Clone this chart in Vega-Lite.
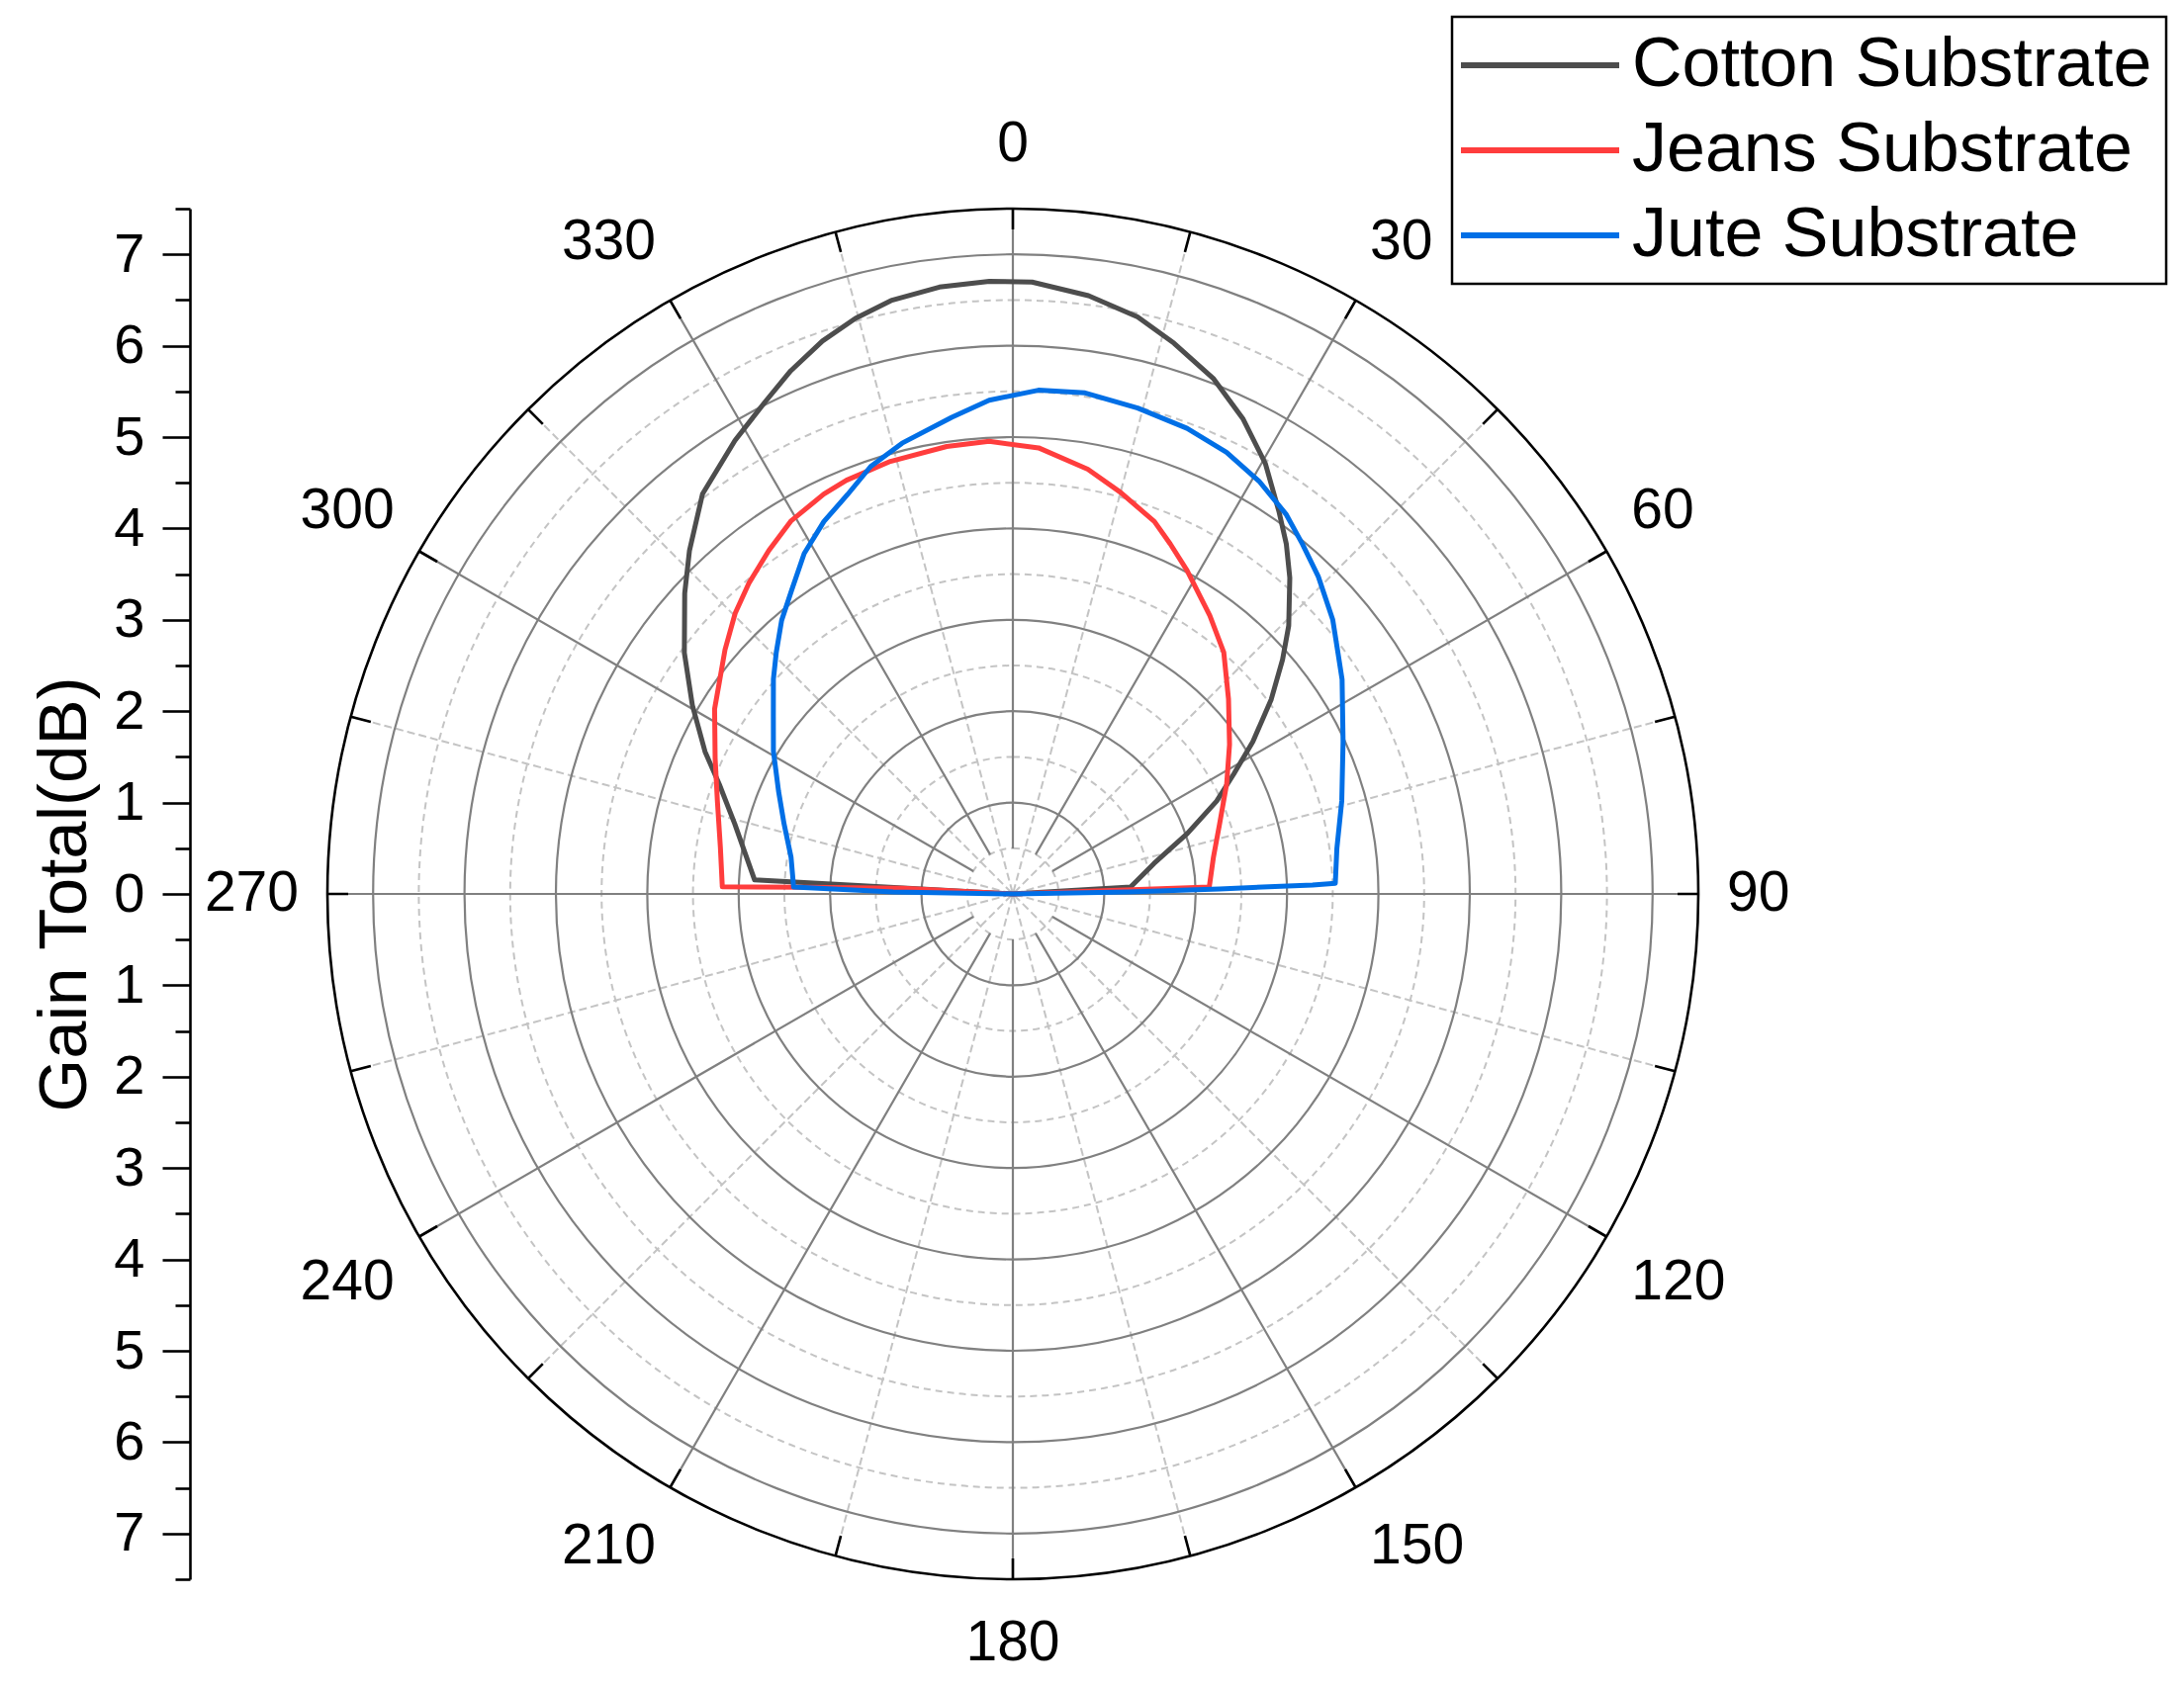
{
  "$schema": "https://vega.github.io/schema/vega-lite/v6.json",
  "width": 1386,
  "height": 1386,
  "autosize": {"type": "none"},
  "padding": {"left": 331, "top": 211, "right": 491, "bottom": 110},
  "background": "white",
  "config": {"view": {"stroke": null}, "legend": {"strokeWidth": 2.5}},
  "layer": [
    {
      "data": {"values": [{"r": 0.5}, {"r": 1.5}, {"r": 2.5}, {"r": 3.5}, {"r": 4.5}, {"r": 5.5}, {"r": 6.5}]},
      "mark": {"type": "arc", "filled": false, "stroke": "#c4c4c4", "strokeWidth": 2, "strokeDash": [7, 5], "theta": 0, "theta2": 6.2832},
      "encoding": {"radius": {"field": "r", "type": "quantitative", "stack": null, "scale": {"type": "linear", "domain": [0, 7.5], "range": [0, 693], "zero": true}}}
    },
    {
      "data": {"values": [{"a": 15}, {"a": 45}, {"a": 75}, {"a": 105}, {"a": 135}, {"a": 165}, {"a": 195}, {"a": 225}, {"a": 255}, {"a": 285}, {"a": 315}, {"a": 345}]},
      "mark": {"type": "arc", "filled": false, "stroke": "#c4c4c4", "strokeWidth": 2, "strokeDash": [7, 5], "radius": 693, "radius2": 0},
      "encoding": {
        "theta": {"field": "a", "type": "quantitative", "stack": null, "scale": {"type": "linear", "domain": [0, 360], "range": [0, 6.283185307179586]}},
        "theta2": {"field": "a"}
      }
    },
    {
      "data": {"values": [{"r": 1}, {"r": 2}, {"r": 3}, {"r": 4}, {"r": 5}, {"r": 6}, {"r": 7}]},
      "mark": {"type": "arc", "filled": false, "stroke": "#808080", "strokeWidth": 2.2, "theta": 0, "theta2": 6.2832},
      "encoding": {"radius": {"field": "r", "type": "quantitative", "stack": null, "scale": {"type": "linear", "domain": [0, 7.5], "range": [0, 693], "zero": true}}}
    },
    {
      "data": {"values": [{"a": 0}, {"a": 30}, {"a": 60}, {"a": 90}, {"a": 120}, {"a": 150}, {"a": 180}, {"a": 210}, {"a": 240}, {"a": 270}, {"a": 300}, {"a": 330}]},
      "mark": {"type": "arc", "filled": false, "stroke": "#808080", "strokeWidth": 2.2, "radius": 693, "radius2": 46},
      "encoding": {
        "theta": {"field": "a", "type": "quantitative", "stack": null, "scale": {"type": "linear", "domain": [0, 360], "range": [0, 6.283185307179586]}},
        "theta2": {"field": "a"}
      }
    },
    {
      "data": {"values": [{"r": 7.5}]},
      "mark": {"type": "arc", "filled": false, "stroke": "black", "strokeWidth": 2.6, "theta": 0, "theta2": 6.2832},
      "encoding": {"radius": {"field": "r", "type": "quantitative", "stack": null, "scale": {"type": "linear", "domain": [0, 7.5], "range": [0, 693], "zero": true}}}
    },
    {
      "data": {"values": [{"a": 0}, {"a": 15}, {"a": 30}, {"a": 45}, {"a": 60}, {"a": 75}, {"a": 90}, {"a": 105}, {"a": 120}, {"a": 135}, {"a": 150}, {"a": 165}, {"a": 180}, {"a": 195}, {"a": 210}, {"a": 225}, {"a": 240}, {"a": 255}, {"a": 270}, {"a": 285}, {"a": 300}, {"a": 315}, {"a": 330}, {"a": 345}]},
      "mark": {"type": "arc", "filled": false, "stroke": "black", "strokeWidth": 2.6, "radius": 693, "radius2": 672},
      "encoding": {
        "theta": {"field": "a", "type": "quantitative", "stack": null, "scale": {"type": "linear", "domain": [0, 360], "range": [0, 6.283185307179586]}},
        "theta2": {"field": "a"}
      }
    },
    {
      "data": {"values": [{"a": 0, "t": "0"}, {"a": 30, "t": "30"}, {"a": 60, "t": "60"}, {"a": 90, "t": "90"}, {"a": 120, "t": "120"}, {"a": 150, "t": "150"}, {"a": 180, "t": "180"}, {"a": 210, "t": "210"}, {"a": 240, "t": "240"}, {"a": 270, "t": "270"}, {"a": 300, "t": "300"}, {"a": 330, "t": "330"}]},
      "mark": {
        "type": "text", "radius": 722,
        "align": {"expr": "abs(sin(datum.a * PI / 180)) < 0.01 ? 'center' : (sin(datum.a * PI / 180) > 0 ? 'left' : 'right')"},
        "baseline": {"expr": "abs(cos(datum.a * PI / 180)) < 0.01 ? 'middle' : (cos(datum.a * PI / 180) > 0 ? 'alphabetic' : 'top')"},
        "dy": {"expr": "cos(datum.a * PI / 180) > 0.01 ? -19 * cos(datum.a * PI / 180) : -8 * cos(datum.a * PI / 180)"},
        "font": "Liberation Sans", "fontSize": 57, "color": "black"
      },
      "encoding": {
        "theta": {"field": "a", "type": "quantitative", "stack": null, "scale": {"type": "linear", "domain": [0, 360], "range": [0, 6.283185307179586]}},
        "text": {"field": "t"}
      }
    },
    {
      "data": {"values": [
        {"s": "Cotton Substrate", "i": 0, "a": -90, "g": 0},
        {"s": "Cotton Substrate", "i": 1, "a": -86.9, "g": 2.83},
        {"s": "Cotton Substrate", "i": 2, "a": -75.8, "g": 3.14},
        {"s": "Cotton Substrate", "i": 3, "a": -69.5, "g": 3.43},
        {"s": "Cotton Substrate", "i": 4, "a": -65.2, "g": 3.71},
        {"s": "Cotton Substrate", "i": 5, "a": -59.5, "g": 4.07},
        {"s": "Cotton Substrate", "i": 6, "a": -53.7, "g": 4.46},
        {"s": "Cotton Substrate", "i": 7, "a": -47.5, "g": 4.87},
        {"s": "Cotton Substrate", "i": 8, "a": -43.3, "g": 5.16},
        {"s": "Cotton Substrate", "i": 9, "a": -37.8, "g": 5.54},
        {"s": "Cotton Substrate", "i": 10, "a": -31.5, "g": 5.82},
        {"s": "Cotton Substrate", "i": 11, "a": -26.7, "g": 6.03},
        {"s": "Cotton Substrate", "i": 12, "a": -23.0, "g": 6.22},
        {"s": "Cotton Substrate", "i": 13, "a": -19.0, "g": 6.40},
        {"s": "Cotton Substrate", "i": 14, "a": -15.3, "g": 6.53},
        {"s": "Cotton Substrate", "i": 15, "a": -11.6, "g": 6.63},
        {"s": "Cotton Substrate", "i": 16, "a": -6.9, "g": 6.69},
        {"s": "Cotton Substrate", "i": 17, "a": -2.2, "g": 6.71},
        {"s": "Cotton Substrate", "i": 18, "a": 1.8, "g": 6.70},
        {"s": "Cotton Substrate", "i": 19, "a": 7.2, "g": 6.60},
        {"s": "Cotton Substrate", "i": 20, "a": 12.2, "g": 6.46},
        {"s": "Cotton Substrate", "i": 21, "a": 16.3, "g": 6.28},
        {"s": "Cotton Substrate", "i": 22, "a": 21.3, "g": 6.05},
        {"s": "Cotton Substrate", "i": 23, "a": 25.8, "g": 5.78},
        {"s": "Cotton Substrate", "i": 24, "a": 30.4, "g": 5.46},
        {"s": "Cotton Substrate", "i": 25, "a": 34.8, "g": 5.10},
        {"s": "Cotton Substrate", "i": 26, "a": 38.0, "g": 4.86},
        {"s": "Cotton Substrate", "i": 27, "a": 41.2, "g": 4.60},
        {"s": "Cotton Substrate", "i": 28, "a": 45.8, "g": 4.21},
        {"s": "Cotton Substrate", "i": 29, "a": 49.0, "g": 3.91},
        {"s": "Cotton Substrate", "i": 30, "a": 53.0, "g": 3.54},
        {"s": "Cotton Substrate", "i": 31, "a": 57.6, "g": 3.11},
        {"s": "Cotton Substrate", "i": 32, "a": 61.5, "g": 2.75},
        {"s": "Cotton Substrate", "i": 33, "a": 65.5, "g": 2.45},
        {"s": "Cotton Substrate", "i": 34, "a": 70.9, "g": 2.02},
        {"s": "Cotton Substrate", "i": 35, "a": 77.8, "g": 1.58},
        {"s": "Cotton Substrate", "i": 36, "a": 86.6, "g": 1.29},
        {"s": "Cotton Substrate", "i": 37, "a": 90, "g": 0},
        {"s": "Jeans Substrate", "i": 0, "a": -90, "g": 0},
        {"s": "Jeans Substrate", "i": 1, "a": -87.0, "g": 1.21},
        {"s": "Jeans Substrate", "i": 2, "a": -88.1, "g": 2.24},
        {"s": "Jeans Substrate", "i": 3, "a": -88.6, "g": 3.18},
        {"s": "Jeans Substrate", "i": 4, "a": -81.0, "g": 3.24},
        {"s": "Jeans Substrate", "i": 5, "a": -72.5, "g": 3.39},
        {"s": "Jeans Substrate", "i": 6, "a": -65.5, "g": 3.58},
        {"s": "Jeans Substrate", "i": 7, "a": -58.2, "g": 3.84},
        {"s": "Jeans Substrate", "i": 8, "a": -54.2, "g": 3.96},
        {"s": "Jeans Substrate", "i": 9, "a": -49.7, "g": 4.13},
        {"s": "Jeans Substrate", "i": 10, "a": -44.7, "g": 4.32},
        {"s": "Jeans Substrate", "i": 11, "a": -40.4, "g": 4.46},
        {"s": "Jeans Substrate", "i": 12, "a": -35.4, "g": 4.61},
        {"s": "Jeans Substrate", "i": 13, "a": -30.7, "g": 4.75},
        {"s": "Jeans Substrate", "i": 14, "a": -25.3, "g": 4.84},
        {"s": "Jeans Substrate", "i": 15, "a": -21.9, "g": 4.88},
        {"s": "Jeans Substrate", "i": 16, "a": -15.8, "g": 4.92},
        {"s": "Jeans Substrate", "i": 17, "a": -8.4, "g": 4.95},
        {"s": "Jeans Substrate", "i": 18, "a": -3.0, "g": 4.96},
        {"s": "Jeans Substrate", "i": 19, "a": 3.3, "g": 4.89},
        {"s": "Jeans Substrate", "i": 20, "a": 10.0, "g": 4.72},
        {"s": "Jeans Substrate", "i": 21, "a": 15.0, "g": 4.55},
        {"s": "Jeans Substrate", "i": 22, "a": 20.8, "g": 4.36},
        {"s": "Jeans Substrate", "i": 23, "a": 24.2, "g": 4.20},
        {"s": "Jeans Substrate", "i": 24, "a": 28.3, "g": 4.02},
        {"s": "Jeans Substrate", "i": 25, "a": 35.3, "g": 3.73},
        {"s": "Jeans Substrate", "i": 26, "a": 41.1, "g": 3.51},
        {"s": "Jeans Substrate", "i": 27, "a": 47.9, "g": 3.18},
        {"s": "Jeans Substrate", "i": 28, "a": 55.4, "g": 2.88},
        {"s": "Jeans Substrate", "i": 29, "a": 62.8, "g": 2.63},
        {"s": "Jeans Substrate", "i": 30, "a": 71.2, "g": 2.39},
        {"s": "Jeans Substrate", "i": 31, "a": 79.7, "g": 2.23},
        {"s": "Jeans Substrate", "i": 32, "a": 88.0, "g": 2.15},
        {"s": "Jeans Substrate", "i": 33, "a": 90, "g": 0},
        {"s": "Jute Substrate", "i": 0, "a": -90, "g": 0},
        {"s": "Jute Substrate", "i": 1, "a": -89.0, "g": 1.31},
        {"s": "Jute Substrate", "i": 2, "a": -88.2, "g": 2.40},
        {"s": "Jute Substrate", "i": 3, "a": -80.6, "g": 2.46},
        {"s": "Jute Substrate", "i": 4, "a": -72.9, "g": 2.62},
        {"s": "Jute Substrate", "i": 5, "a": -66.3, "g": 2.80},
        {"s": "Jute Substrate", "i": 6, "a": -59.2, "g": 3.05},
        {"s": "Jute Substrate", "i": 7, "a": -53.5, "g": 3.26},
        {"s": "Jute Substrate", "i": 8, "a": -48.1, "g": 3.52},
        {"s": "Jute Substrate", "i": 9, "a": -44.4, "g": 3.70},
        {"s": "Jute Substrate", "i": 10, "a": -40.2, "g": 3.92},
        {"s": "Jute Substrate", "i": 11, "a": -36.1, "g": 4.11},
        {"s": "Jute Substrate", "i": 12, "a": -31.5, "g": 4.37},
        {"s": "Jute Substrate", "i": 13, "a": -26.9, "g": 4.57},
        {"s": "Jute Substrate", "i": 14, "a": -22.5, "g": 4.73},
        {"s": "Jute Substrate", "i": 15, "a": -18.4, "g": 4.93},
        {"s": "Jute Substrate", "i": 16, "a": -13.8, "g": 5.08},
        {"s": "Jute Substrate", "i": 17, "a": -7.3, "g": 5.26},
        {"s": "Jute Substrate", "i": 18, "a": -2.75, "g": 5.41},
        {"s": "Jute Substrate", "i": 19, "a": 2.9, "g": 5.52},
        {"s": "Jute Substrate", "i": 20, "a": 8.2, "g": 5.54},
        {"s": "Jute Substrate", "i": 21, "a": 14.4, "g": 5.49},
        {"s": "Jute Substrate", "i": 22, "a": 20.5, "g": 5.44},
        {"s": "Jute Substrate", "i": 23, "a": 25.8, "g": 5.37},
        {"s": "Jute Substrate", "i": 24, "a": 30.8, "g": 5.26},
        {"s": "Jute Substrate", "i": 25, "a": 35.7, "g": 5.12},
        {"s": "Jute Substrate", "i": 26, "a": 39.6, "g": 4.97},
        {"s": "Jute Substrate", "i": 27, "a": 43.9, "g": 4.82},
        {"s": "Jute Substrate", "i": 28, "a": 49.4, "g": 4.61},
        {"s": "Jute Substrate", "i": 29, "a": 53.4, "g": 4.43},
        {"s": "Jute Substrate", "i": 30, "a": 56.9, "g": 4.30},
        {"s": "Jute Substrate", "i": 31, "a": 65.2, "g": 3.98},
        {"s": "Jute Substrate", "i": 32, "a": 74.2, "g": 3.74},
        {"s": "Jute Substrate", "i": 33, "a": 82.0, "g": 3.58},
        {"s": "Jute Substrate", "i": 34, "a": 88.1, "g": 3.53},
        {"s": "Jute Substrate", "i": 35, "a": 88.3, "g": 3.28},
        {"s": "Jute Substrate", "i": 36, "a": 88.6, "g": 2.26},
        {"s": "Jute Substrate", "i": 37, "a": 89.0, "g": 1.26},
        {"s": "Jute Substrate", "i": 38, "a": 90, "g": 0}
      ]},
      "transform": [
        {"calculate": "datum.g * sin(datum.a * PI / 180)", "as": "px"},
        {"calculate": "datum.g * cos(datum.a * PI / 180)", "as": "py"}
      ],
      "mark": {"type": "line", "strokeWidth": 5, "strokeJoin": "round"},
      "encoding": {
        "x": {"field": "px", "type": "quantitative", "scale": {"domain": [-7.5, 7.5], "nice": false, "zero": false}, "axis": null},
        "y": {"field": "py", "type": "quantitative", "scale": {"domain": [-7.5, 7.5], "nice": false, "zero": false},
          "axis": {
            "orient": "left", "offset": 139, "grid": false,
            "values": [-7.5, -7, -6.5, -6, -5.5, -5, -4.5, -4, -3.5, -3, -2.5, -2, -1.5, -1, -0.5, 0, 0.5, 1, 1.5, 2, 2.5, 3, 3.5, 4, 4.5, 5, 5.5, 6, 6.5, 7, 7.5],
            "labelExpr": "datum.value % 1 == 0 ? '' + abs(datum.value) : ''",
            "tickSize": {"condition": {"test": "datum.value % 1 == 0", "value": 28}, "value": 15},
            "tickWidth": 2.6, "tickColor": "black",
            "domainColor": "black", "domainWidth": 2.6,
            "labelFont": "Liberation Sans", "labelFontSize": 56, "labelColor": "black",
            "labelPadding": 18, "labelOverlap": false, "labelFlush": false, "labelBound": false,
            "title": "Gain Total(dB)", "titleFont": "Liberation Sans", "titleFontSize": 69, "titleFontWeight": "normal", "titleColor": "black", "titlePadding": 14
          }
        },
        "order": {"field": "i", "type": "quantitative"},
        "color": {
          "field": "s", "type": "nominal",
          "scale": {"domain": ["Cotton Substrate", "Jeans Substrate", "Jute Substrate"], "range": ["#4d4d4d", "#ff3d3d", "#006fe6"]},
          "legend": {
            "orient": "none", "legendX": 1137, "legendY": -194, "title": null,
            "symbolType": "M-4,0H4", "symbolSize": 1600, "symbolStrokeWidth": 6, "symbolOffset": 40,
            "labelFont": "Liberation Sans", "labelFontSize": 70, "labelColor": "black", "labelOffset": 58, "labelLimit": 0,
            "strokeColor": "black", "padding": 14, "rowPadding": 16
          }
        }
      }
    }
  ]
}
